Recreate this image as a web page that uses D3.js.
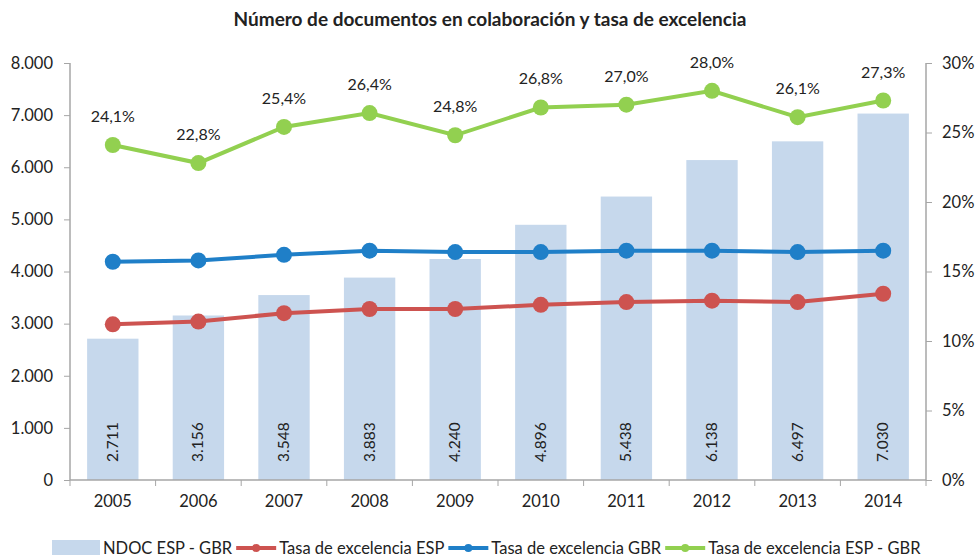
<!DOCTYPE html>
<html>
<head>
<meta charset="utf-8">
<script src="https://cdnjs.cloudflare.com/ajax/libs/d3/7.8.5/d3.min.js"></script>
<style>
  body { margin: 0; background: #fff; }
  svg text { font-family: Lato, "Open Sans", sans-serif; fill: #222; }
</style>
</head>
<body>
<svg id="chart" width="976" height="557"></svg>
<script>
var years = ["2005","2006","2007","2008","2009","2010","2011","2012","2013","2014"],
    ndoc = [2711, 3156, 3548, 3883, 4240, 4896, 5438, 6138, 6497, 7030],
    tasaEsp = [11.2, 11.4, 12.0, 12.3, 12.3, 12.6, 12.8, 12.9, 12.8, 13.4],
    tasaGbr = [15.7, 15.8, 16.2, 16.5, 16.4, 16.4, 16.5, 16.5, 16.4, 16.5],
    tasaEspGbr = [24.1, 22.8, 25.4, 26.4, 24.8, 26.8, 27.0, 28.0, 26.1, 27.3],
    leftTicks = [0, 1000, 2000, 3000, 4000, 5000, 6000, 7000, 8000],
    rightTicks = [0, 5, 10, 15, 20, 25, 30];

var margin = {top: 63, right: 50, bottom: 77, left: 70},
    width = 976 - margin.left - margin.right,
    height = 557 - margin.top - margin.bottom,
    axisColor = "#a6a6a6",
    barColor = "#c6d8ec",
    series = [
      {name: "Tasa de excelencia ESP", values: tasaEsp, color: "#cd5350"},
      {name: "Tasa de excelencia GBR", values: tasaGbr, color: "#1f7fc8"},
      {name: "Tasa de excelencia ESP - GBR", values: tasaEspGbr, color: "#92d050"}
    ];

var fmtNum = function(v) { return d3.format(",")(v).replace(/,/g, "."); };

var svg = d3.select("#chart");

svg.append("text")
  .attr("x", 490).attr("y", 26)
  .style("text-anchor", "middle")
  .style("font-size", "19px")
  .style("font-weight", "bold")
  .text("Número de documentos en colaboración y tasa de excelencia");

var g = svg.append("g")
  .attr("transform", "translate(" + margin.left + "," + margin.top + ")");

var x = d3.scaleBand().domain(years).range([0, width]).paddingInner(0.4).paddingOuter(0.2);
var xc = function(d) { return x(d) + x.bandwidth() / 2; };
var y = d3.scaleLinear().domain([0, 8000]).range([height, 0]);
var y2 = d3.scaleLinear().domain([0, 30]).range([height, 0]);

// bars
g.selectAll(".bar")
  .data(years)
  .enter().append("rect")
    .attr("class", "bar")
    .attr("x", function(d) { return x(d); })
    .attr("width", x.bandwidth())
    .attr("y", function(d, i) { return y(ndoc[i]); })
    .attr("height", function(d, i) { return height - y(ndoc[i]); })
    .style("fill", barColor);

// bar value labels (rotated)
g.selectAll(".barLabel")
  .data(years)
  .enter().append("text")
    .attr("transform", function(d) { return "translate(" + (xc(d) + 5) + "," + (height - 18) + ") rotate(-90)"; })
    .style("font-size", "15.5px")
    .text(function(d, i) { return fmtNum(ndoc[i]); });

// axes
var xAxis = g.append("g")
  .attr("transform", "translate(0," + height + ")")
  .call(d3.axisBottom(x).tickSize(0).tickPadding(13));
xAxis.selectAll("text").style("font-size", "16.5px").attr("dy", "0.85em");
// category boundary ticks
var step = x.step();
xAxis.selectAll(".bnd")
  .data(d3.range(years.length + 1))
  .enter().append("line")
    .attr("x1", function(i) { return i * step; })
    .attr("x2", function(i) { return i * step; })
    .attr("y1", 0).attr("y2", 6)
    .style("stroke", axisColor);

var yAxis = g.append("g")
  .call(d3.axisLeft(y).tickValues(leftTicks).tickFormat(fmtNum).tickSize(6).tickPadding(11));
yAxis.selectAll("text").style("font-size", "16.5px");

var yAxis2 = g.append("g")
  .attr("transform", "translate(" + width + ",0)")
  .call(d3.axisRight(y2).tickValues(rightTicks).tickFormat(function(d) { return d + "%"; }).tickSize(6).tickPadding(10));
yAxis2.selectAll("text").style("font-size", "16.5px");

[xAxis, yAxis, yAxis2].forEach(function(a) {
  a.select(".domain").style("stroke", axisColor).style("stroke-width", 1.5);
  a.selectAll(".tick line").style("stroke", axisColor);
});
xAxis.select(".domain").attr("d", "M0,0H" + width);
yAxis.select(".domain").attr("d", "M0,0V" + height);
yAxis2.select(".domain").attr("d", "M0,0V" + height);

// lines
var line = d3.line()
  .x(function(d, i) { return xc(years[i]); })
  .y(function(d) { return y2(d); });

series.forEach(function(s) {
  g.append("path")
    .datum(s.values)
    .attr("d", line)
    .style("fill", "none")
    .style("stroke", s.color)
    .style("stroke-width", 4);

  g.selectAll(null)
    .data(s.values)
    .enter().append("circle")
      .attr("cx", function(d, i) { return xc(years[i]); })
      .attr("cy", function(d) { return y2(d); })
      .attr("r", 8)
      .style("fill", s.color);
});

// labels for the ESP - GBR series
g.selectAll(".pctLabel")
  .data(tasaEspGbr)
  .enter().append("text")
    .attr("x", function(d, i) { return xc(years[i]); })
    .attr("y", function(d) { return y2(d) - 23; })
    .style("text-anchor", "middle")
    .style("font-size", "16px")
    .text(function(d) { return d.toFixed(1).replace(".", ",") + "%"; });

// legend
var legend = svg.append("g").attr("transform", "translate(0,548)");
var lx = 52;
legend.append("rect")
  .attr("x", lx).attr("y", -8).attr("width", 48).attr("height", 15)
  .style("fill", barColor);
var t0 = legend.append("text")
  .attr("x", lx + 51).attr("y", 6)
  .style("font-size", "16.5px")
  .text("NDOC ESP - GBR");
lx = lx + 51 + t0.node().getComputedTextLength() + 4;

series.forEach(function(s) {
  legend.append("line")
    .attr("x1", lx).attr("x2", lx + 40)
    .attr("y1", 0).attr("y2", 0)
    .style("stroke", s.color).style("stroke-width", 4);
  legend.append("circle")
    .attr("cx", lx + 20).attr("cy", 0).attr("r", 4)
    .style("fill", s.color);
  var t = legend.append("text")
    .attr("x", lx + 43).attr("y", 6)
    .style("font-size", "16.5px")
    .text(s.name);
  lx = lx + 43 + t.node().getComputedTextLength() + 4;
});
</script>
</body>
</html>
